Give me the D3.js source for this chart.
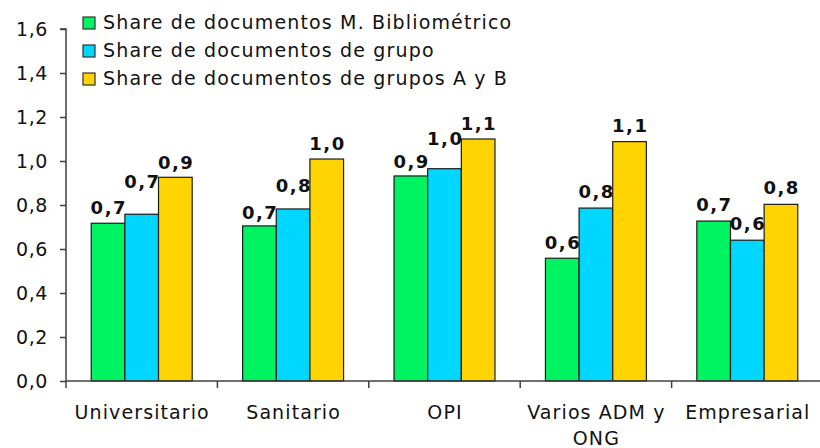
<!DOCTYPE html>
<html>
<head>
<meta charset="utf-8">
<script src="https://cdn.jsdelivr.net/npm/d3@7"></script>
<style>
  body { margin: 0; background: #fff; }
  text { font-family: "DejaVu Sans", Verdana, sans-serif; fill: #111; }
</style>
</head>
<body>
<svg id="chart"></svg>
<script>
const categories = ["Universitario", "Sanitario", "OPI", "Varios ADM y ONG", "Empresarial"];
const seriesNames = [
  "Share de documentos M. Bibliométrico",
  "Share de documentos de grupo",
  "Share de documentos de grupos A y B"
];
const bibliometrico = [0.717, 0.705, 0.932, 0.558, 0.727];
const grupo = [0.758, 0.782, 0.965, 0.786, 0.640];
const gruposAB = [0.926, 1.009, 1.100, 1.088, 0.803];
const labelsBibliometrico = ["0,7", "0,7", "0,9", "0,6", "0,7"];
const labelsGrupo = ["0,7", "0,8", "1,0", "0,8", "0,6"];
const labelsGruposAB = ["0,9", "1,0", "1,1", "1,1", "0,8"];
const yTicks = [0, 0.2, 0.4, 0.6, 0.8, 1.0, 1.2, 1.4, 1.6];
const colors = ["#00f462", "#00d7ff", "#ffd400"];

const width = 820,
  height = 448,
  plotLeft = 66,
  plotRight = 823,
  plotTop = 29,
  plotBottom = 381;

// gap (px) between bar top and label baseline; some labels were lifted in the original
const labelGap = [
  [9, 7, 8, 9, 10],
  [26, 17, 24, 10.5, 10.5],
  [8, 9, 9, 10, 10]
];

const svg = d3.select("#chart").attr("width", width).attr("height", height);

const values = [bibliometrico, grupo, gruposAB];
const labels = [labelsBibliometrico, labelsGrupo, labelsGruposAB];

const x0 = d3.scaleBand().domain(categories).range([plotLeft, plotRight]).padding(0);
const x1 = d3
  .scaleBand()
  .domain(d3.range(seriesNames.length))
  .range([x0.bandwidth() / 6, (x0.bandwidth() * 5) / 6])
  .padding(0);
const y = d3.scaleLinear().domain([0, 1.6]).range([plotBottom, plotTop]);

const fmt = d => d.toFixed(1).replace(".", ",");

// bars
categories.forEach((cat, i) => {
  const g = svg.append("g").attr("transform", "translate(" + x0(cat) + ",0)");
  values.forEach((serie, s) => {
    g.append("rect")
      .attr("x", x1(s))
      .attr("y", y(serie[i]))
      .attr("width", x1.bandwidth())
      .attr("height", y(0) - y(serie[i]))
      .attr("fill", colors[s])
      .attr("stroke", "#1a1a1a")
      .attr("stroke-width", 1.2);
  });
  values.forEach((serie, s) => {
    g.append("text")
      .attr("x", x1(s) + x1.bandwidth() / 2 + 0.75)
      .attr("y", y(serie[i]) - labelGap[s][i])
      .attr("text-anchor", "middle")
      .style("font-size", "18px")
      .style("font-weight", "bold")
      .style("letter-spacing", "1.5px")
      .text(labels[s][i]);
  });
});

// y axis
const yAxis = d3.axisLeft(y).tickValues(yTicks).tickFormat(fmt).tickSize(6).tickPadding(12);
const gy = svg.append("g").attr("transform", "translate(" + plotLeft + ",0)").call(yAxis);
gy.selectAll("path, line").attr("stroke", "#404040").attr("stroke-width", 1.5);
gy.select(".domain").attr("d", "M-6," + plotTop + "H0V" + plotBottom);
gy.selectAll("text")
  .style("font-size", "19px")
  .style("letter-spacing", "0.6px")
  .style("font-family", "'DejaVu Sans', Verdana, sans-serif")
  .attr("fill", "#111");

// x axis line and boundary ticks
svg.append("line")
  .attr("x1", plotLeft).attr("x2", plotRight)
  .attr("y1", plotBottom).attr("y2", plotBottom)
  .attr("stroke", "#404040").attr("stroke-width", 1.5);
categories.forEach(cat => {
  svg.append("line")
    .attr("x1", x0(cat)).attr("x2", x0(cat))
    .attr("y1", plotBottom).attr("y2", plotBottom + 7)
    .attr("stroke", "#404040").attr("stroke-width", 1.5);
});

// category labels (wrapped)
categories.forEach(cat => {
  const lines = cat === "Varios ADM y ONG" ? ["Varios ADM y", "ONG"] : [cat];
  const cx = x0(cat) + x0.bandwidth() / 2 + 0.5;
  const t = svg.append("text")
    .attr("x", cx)
    .attr("y", 419)
    .attr("text-anchor", "middle")
    .style("font-size", "19px")
    .style("letter-spacing", "1.1px");
  lines.forEach((l, k) => {
    t.append("tspan")
      .attr("x", cx)
      .attr("dy", k === 0 ? 0 : 26)
      .text(l);
  });
});

// legend
const legend = svg.append("g").attr("transform", "translate(83,0)");
seriesNames.forEach((name, s) => {
  const base = 29 + s * 28;
  legend.append("rect")
    .attr("x", 0).attr("y", base - 12)
    .attr("width", 12).attr("height", 12)
    .attr("fill", colors[s])
    .attr("stroke", "#333").attr("stroke-width", 1.2);
  legend.append("text")
    .attr("x", 20).attr("y", base)
    .style("font-size", "19px")
    .style("letter-spacing", "1.15px")
    .text(name);
});
</script>
</body>
</html>
